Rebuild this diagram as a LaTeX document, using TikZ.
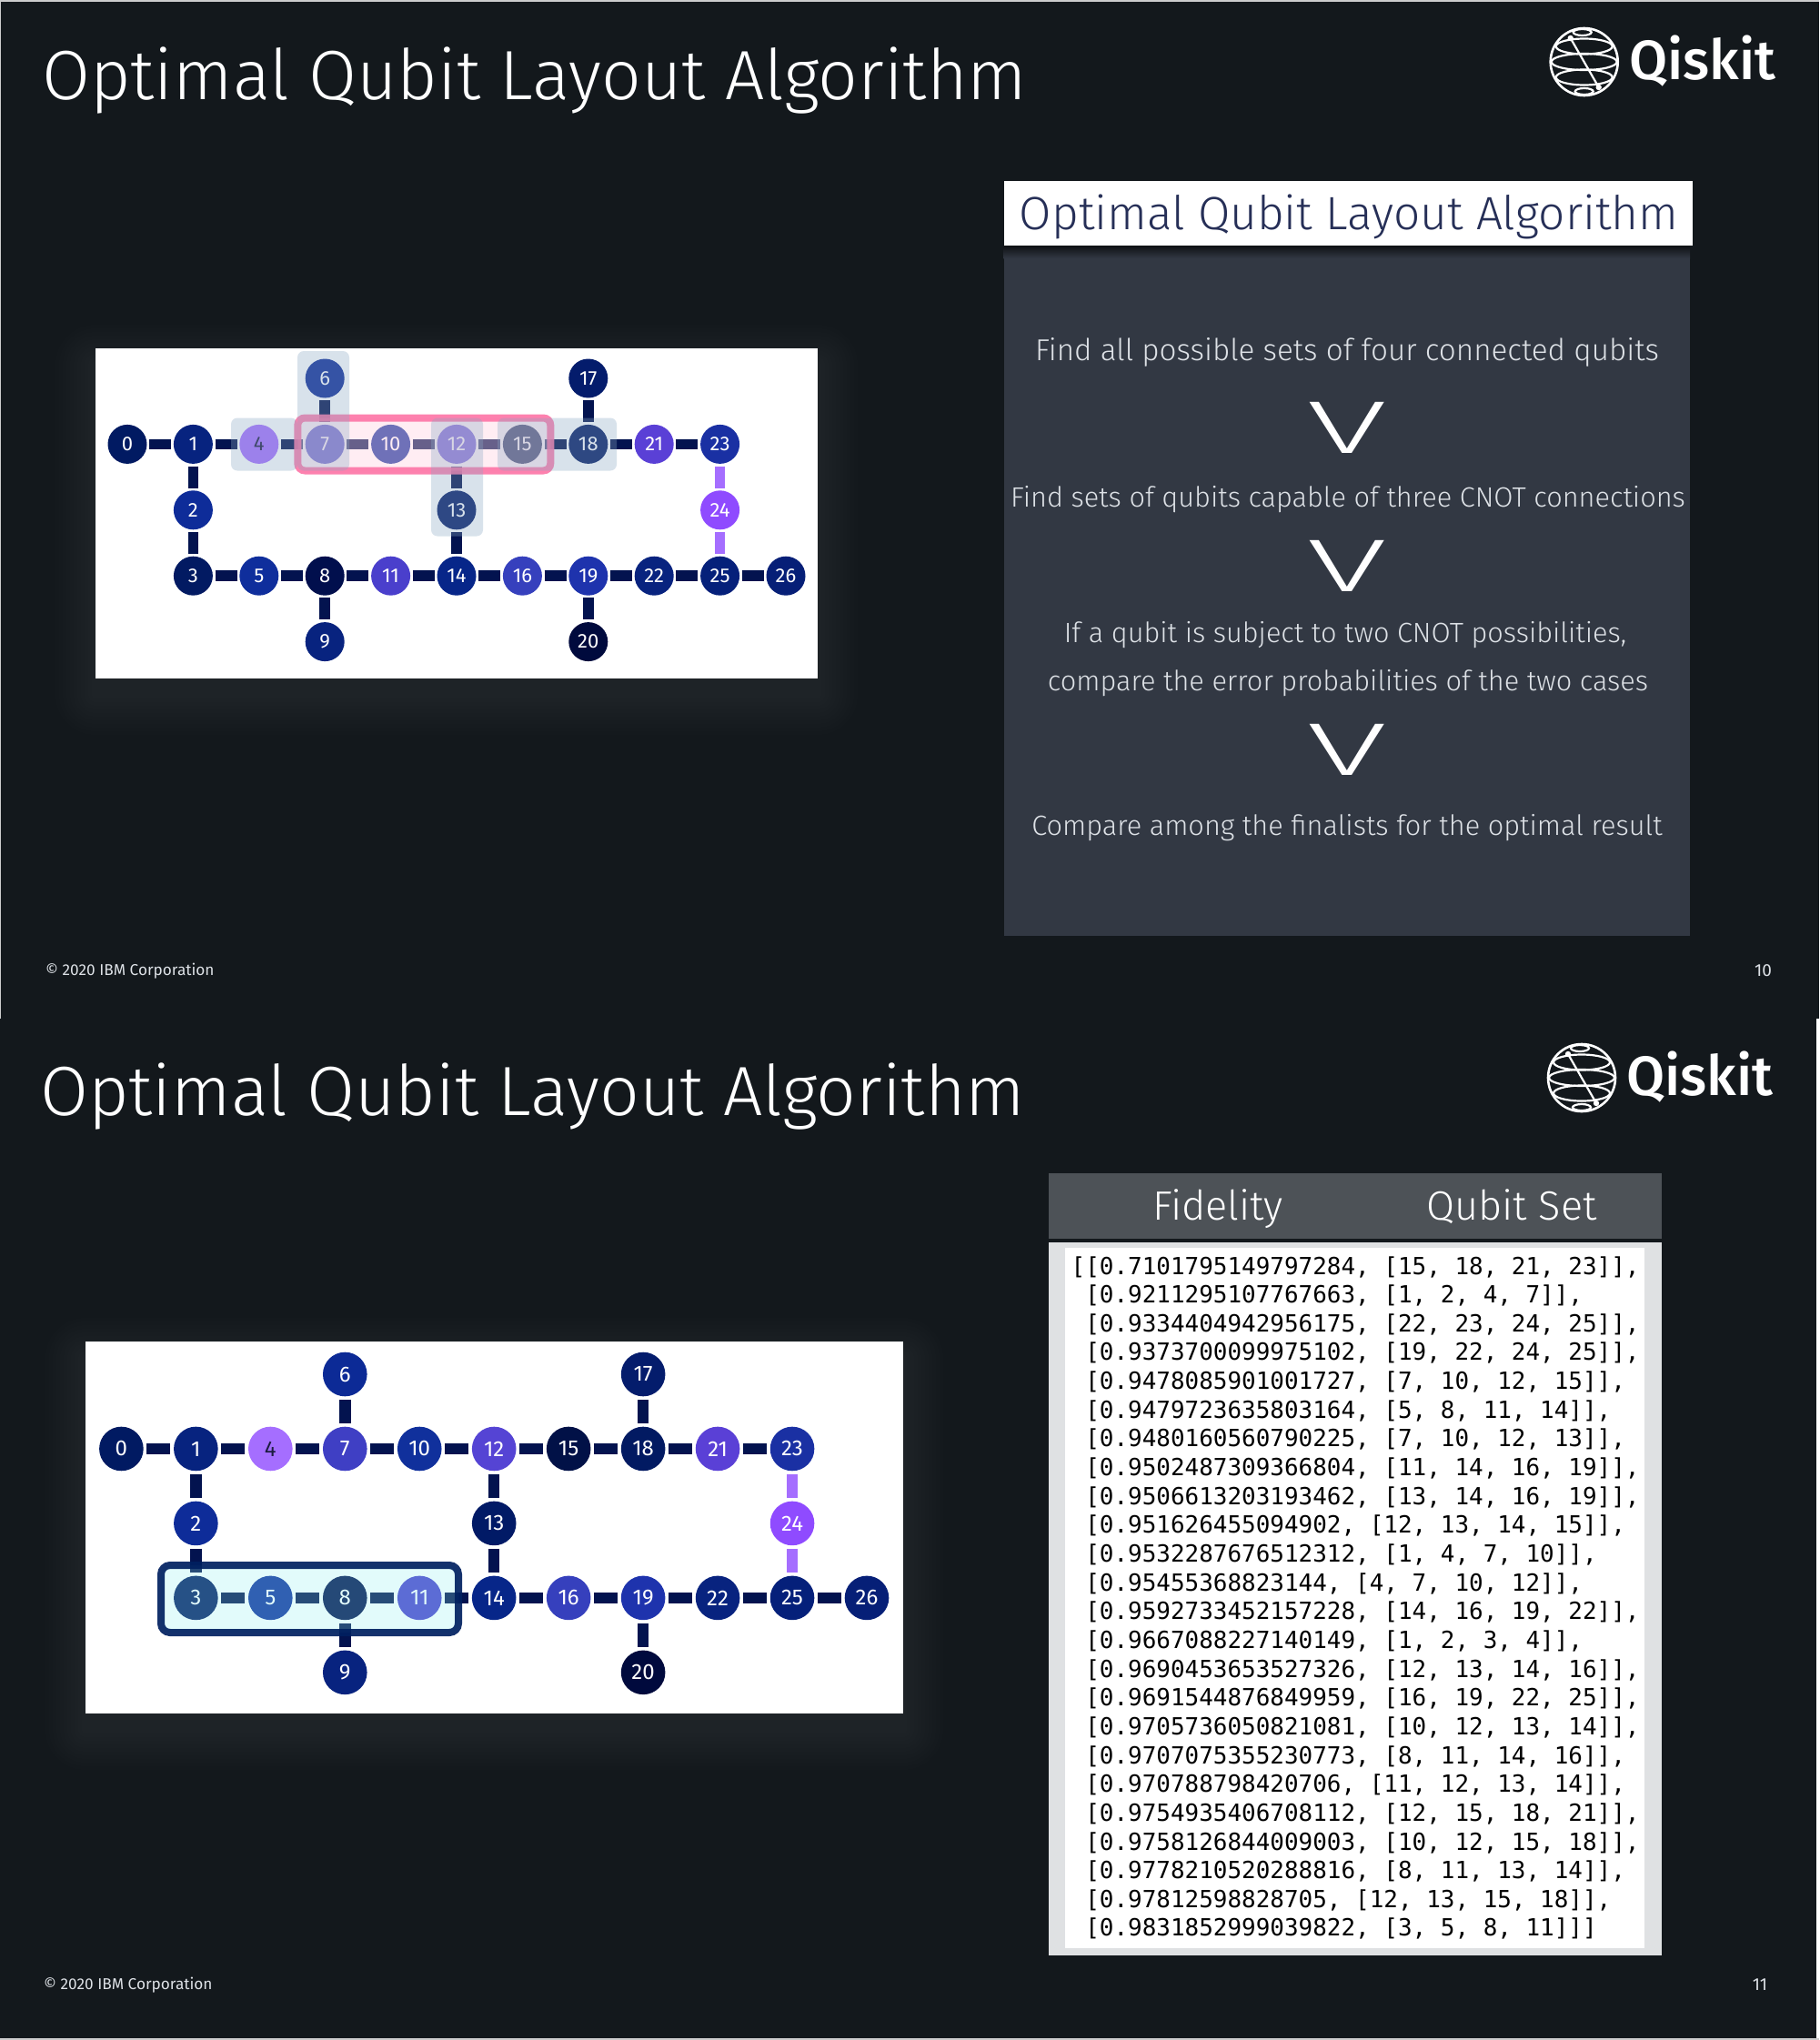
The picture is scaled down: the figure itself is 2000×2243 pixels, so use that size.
\documentclass[tikz,border=0pt]{standalone}
\usepackage{fontspec}
\usetikzlibrary{calc}
\setmainfont{Fira Sans Light}
\newfontfamily\regfont{Fira Sans}
\newfontfamily\medfont{Fira Sans Medium}
\newfontfamily\monofont{DejaVu Sans Mono}
\definecolor{bg}{HTML}{13181C}
\definecolor{edgeC}{HTML}{03134F}
\definecolor{lilac}{HTML}{A56EFF}
\definecolor{panelC}{HTML}{323843}
\definecolor{titleC}{HTML}{262F57}
\definecolor{darkNum}{HTML}{1C1C40}
\definecolor{textC}{HTML}{DDE1E6}
\definecolor{headC}{HTML}{4D5257}
\definecolor{frameC}{HTML}{DFE1E3}
\definecolor{pinkB}{HTML}{FD74A6}
\definecolor{pinkF}{HTML}{FFD4E3}
\definecolor{hiF}{HTML}{8AA8C4}
\definecolor{navyB}{HTML}{002060}
\definecolor{cyanF}{HTML}{91F3F3}
\definecolor{q0}{HTML}{011A62}\definecolor{q1}{HTML}{07237F}\definecolor{q2}{HTML}{0E2C99}
\definecolor{q3}{HTML}{021A62}\definecolor{q4}{HTML}{A56EFF}\definecolor{q5}{HTML}{0F2E9C}
\definecolor{q6}{HTML}{0C2A96}\definecolor{q7}{HTML}{3F3FC4}\definecolor{q8}{HTML}{010F4D}
\definecolor{q9}{HTML}{08237F}\definecolor{q10}{HTML}{10309C}\definecolor{q11}{HTML}{4A3FCC}
\definecolor{q12}{HTML}{5544D4}\definecolor{q13}{HTML}{011A66}\definecolor{q14}{HTML}{072689}
\definecolor{q15}{HTML}{011147}\definecolor{q16}{HTML}{3640BD}\definecolor{q17}{HTML}{041C6C}
\definecolor{q18}{HTML}{021A62}\definecolor{q19}{HTML}{1E33AD}\definecolor{q20}{HTML}{000A3D}
\definecolor{q21}{HTML}{5A40D6}\definecolor{q22}{HTML}{08237F}\definecolor{q23}{HTML}{1A30A3}
\definecolor{q24}{HTML}{8F4BFF}\definecolor{q25}{HTML}{05207A}\definecolor{q26}{HTML}{061F77}
\tikzset{
  qubit/.style={circle,inner sep=0pt,text=white,font=\regfont\fontsize{#1}{#1}\selectfont},
  wire/.style={line cap=butt,draw=edgeC},
  slidetitle/.style={anchor=base west,inner sep=0pt,text=white,font=\fontsize{76.7}{76.7}\selectfont},
  foot/.style={inner sep=0pt,text=textC,font=\regfont\fontsize{17.2}{17.2}\selectfont},
  pagenum/.style={inner sep=0pt,text=textC,font=\regfont\fontsize{19}{19}\selectfont},
  stepline/.style={anchor=base,inner sep=0pt,text=textC,font=\fontsize{30.7}{30.7}\selectfont},
  chevron/.style={inner sep=0pt,text=white,font=\fontsize{82}{82}\selectfont},
  colhead/.style={anchor=base,inner sep=0pt,text=white,font=\fontsize{45}{45}\selectfont},
  logotext/.style={anchor=base west,inner sep=0pt,text=white,font=\medfont\fontsize{61}{61}\selectfont},
  tableline/.style={anchor=base west,inner sep=0pt,text=black,font=\monofont\fontsize{25.95}{25.95}\selectfont},
  ring/.style={draw=white,line width=2.2pt},
}
% glow round a panel: left, top, right, bottom
\newcommand{\panelglow}[4]{%
  \foreach \g in {4,8,...,44}{
    \fill[white,opacity=0.009,rounded corners=\g pt]
      ({#1-\g},{#2-\g+18}) rectangle ({#3+\g},{#4+\g+18});
  }}
% Qiskit logo at centre of globe
\newcommand{\qlogo}[2]{%
  \begin{scope}[shift={(#1,#2)}]
    \draw[ring,line width=2.6pt] (0,0) circle[radius=37pt];
    \draw[ring] (0,0) ellipse[x radius=36pt,y radius=9pt];
    \draw[ring] (0,-17) ellipse[x radius=31pt,y radius=8.5pt];
    \draw[ring] (0,17) ellipse[x radius=31pt,y radius=8.5pt];
    \draw[ring] (-2,-32.5) ellipse[x radius=10pt,y radius=3.5pt];
    \draw[ring] (0,32.5) ellipse[x radius=10pt,y radius=3.5pt];
    \coordinate (qa) at (-15,-26);
    \coordinate (qb) at (16,28);
    \draw[white,line width=2.2pt] (qa) -- (qb);
    \fill[white] (qa) circle[radius=3.2pt] (qb) circle[radius=3.2pt];
  \end{scope}}
% chip graph: prefix, x0, y0, step, radius, font size, wire width, gap
\newcommand{\chipnodes}[8]{%
  \foreach \n/\cx/\cy in {0/0/1,1/1/1,7/3/1,10/4/1,12/5/1,15/6/1,18/7/1,21/8/1,23/9/1,
      3/1/3,5/2/3,8/3/3,11/4/3,14/5/3,16/6/3,19/7/3,22/8/3,25/9/3,26/10/3,
      6/3/0,17/7/0,2/1/2,13/5/2,24/9/2,9/3/4,20/7/4}{
    \node[qubit=#6,fill=q\n,minimum size=#5*2pt] (#1\n) at ({#2+\cx*#4},{#3+\cy*#4}) {\n};
  }
  \node[qubit=#6,fill=q4,text=darkNum,minimum size=#5*2pt] (#14) at ({#2+2*#4},{#3+#4}) {4};
  \foreach \a/\b in {0/1,1/4,4/7,7/10,10/12,12/15,15/18,18/21,21/23,1/2,2/3,3/5,5/8,8/11,11/14,14/16,16/19,19/22,22/25,25/26,6/7,17/18,12/13,13/14,8/9,19/20}{
    \draw[wire,line width=#7pt,shorten <=#8pt,shorten >=#8pt] (#1\a) -- (#1\b);
  }
  \draw[wire,draw=lilac,line width=#7pt,shorten <=#8pt,shorten >=#8pt] (#123) -- (#124);
  \draw[wire,draw=lilac,line width=#7pt,shorten <=#8pt,shorten >=#8pt] (#124) -- (#125);
}
\begin{document}
\begin{tikzpicture}[x=1pt,y=-1pt]
\useasboundingbox (0,0) rectangle (2000,2243);
\fill[bg] (0,0) rectangle (2000,2243);
% hairlines at the slide edges
\fill[white!80!black] (0,0) rectangle (2000,1.5);
\fill[white!80!black] (0,0) rectangle (1.2,1120);
\fill[white] (1996.6,1120) rectangle (2000,2243);
\fill[white!80!black] (0,2241) rectangle (2000,2243);

% ---- slide 10 ----
\node[slidetitle] (title1) at (46,109) {Optimal Qubit Layout Algorithm};
\qlogo{1741.7}{68}
\node[logotext] (qk1) at (1791,87) {Qiskit};
\panelglow{105}{383}{899}{746}
\fill[white] (105,383) rectangle (899,746);
\chipnodes{a}{140}{416}{72.4}{21.5}{22}{11.5}{2.5}
\draw[pinkB,line width=8pt,opacity=.9,fill=pinkF,fill opacity=.4,rounded corners=8pt,draw opacity=.9]
  (327.3,459.5) rectangle (605.3,517.5);
\foreach \xa/\ya/\xb/\yb in {327/386/384/517.5, 254/459.5/327/517.5, 474/459.5/531/589.5, 547/459.5/678/517.5}{
  \fill[hiF,opacity=.33,rounded corners=7pt] (\xa,\ya) rectangle (\xb,\yb);
}
% right column
\fill[panelC] (1103.5,270) rectangle (1858,1029);
\shade[top color=black!70!panelC,bottom color=panelC] (1103.5,270) rectangle (1858,284);
\fill[white] (1103.5,199) rectangle (1860.5,270);
\node[anchor=base,inner sep=0pt,text=titleC,font=\fontsize{51.3}{51.3}\selectfont] (ptitle) at (1483,252) {Optimal Qubit Layout Algorithm};
\node[stepline,font=\fontsize{33.2}{33.2}\selectfont] (s1) at (1481,396) {Find all possible sets of four connected qubits};
\node[chevron] (v1) at (1481,470) {\scalebox{1.95}[1]{V}};
\node[stepline] (s2) at (1482,557) {Find sets of qubits capable of three CNOT connections};
\node[chevron] (v2) at (1481,622) {\scalebox{1.95}[1]{V}};
\node[stepline] (s3) at (1479,706) {If a qubit is subject to two CNOT possibilities,};
\node[stepline] (s4) at (1482,759) {compare the error probabilities of the two cases};
\node[chevron] (v3) at (1481,824) {\scalebox{1.95}[1]{V}};
\node[stepline] (s5) at (1481,918) {Compare among the finalists for the optimal result};
\node[foot,anchor=west] (f1) at (50,1067.5) {© 2020 IBM Corporation};
\node[pagenum] (p1) at (1938.5,1067) {10};

% ---- slide 11 ----
\node[slidetitle] (title2) at (44,1226) {Optimal Qubit Layout Algorithm};
\qlogo{1739}{1185}
\node[logotext] (qk2) at (1788,1204) {Qiskit};
\panelglow{94}{1475}{993}{1884}
\fill[white] (94,1475) rectangle (993,1884);
\chipnodes{b}{133.4}{1511}{81.96}{24.3}{24}{12.5}{3.5}
\draw[navyB,line width=8pt,opacity=.9,fill=cyanF,fill opacity=.254,draw opacity=.92,rounded corners=10pt]
  (177,1721) rectangle (504,1795);
% table
\fill[headC] (1152.5,1290) rectangle (1826.5,1362);
\node[colhead] (h1) at (1339,1341) {Fidelity};
\node[colhead] (h2) at (1662,1341) {Qubit Set};
\fill[frameC] (1152.5,1366) rectangle (1826.5,2150);
\fill[white] (1171,1372) rectangle (1808,2142);
\foreach [count=\i from 0] \t in {
{{[}{[}0.7101795149797284, {[}15, 18, 21, 23{]}{]},},
{~{[}0.9211295107767663, {[}1, 2, 4, 7{]}{]},},
{~{[}0.9334404942956175, {[}22, 23, 24, 25{]}{]},},
{~{[}0.9373700099975102, {[}19, 22, 24, 25{]}{]},},
{~{[}0.9478085901001727, {[}7, 10, 12, 15{]}{]},},
{~{[}0.9479723635803164, {[}5, 8, 11, 14{]}{]},},
{~{[}0.9480160560790225, {[}7, 10, 12, 13{]}{]},},
{~{[}0.9502487309366804, {[}11, 14, 16, 19{]}{]},},
{~{[}0.9506613203193462, {[}13, 14, 16, 19{]}{]},},
{~{[}0.951626455094902, {[}12, 13, 14, 15{]}{]},},
{~{[}0.9532287676512312, {[}1, 4, 7, 10{]}{]},},
{~{[}0.95455368823144, {[}4, 7, 10, 12{]}{]},},
{~{[}0.9592733452157228, {[}14, 16, 19, 22{]}{]},},
{~{[}0.9667088227140149, {[}1, 2, 3, 4{]}{]},},
{~{[}0.9690453653527326, {[}12, 13, 14, 16{]}{]},},
{~{[}0.9691544876849959, {[}16, 19, 22, 25{]}{]},},
{~{[}0.9705736050821081, {[}10, 12, 13, 14{]}{]},},
{~{[}0.9707075355230773, {[}8, 11, 14, 16{]}{]},},
{~{[}0.970788798420706, {[}11, 12, 13, 14{]}{]},},
{~{[}0.9754935406708112, {[}12, 15, 18, 21{]}{]},},
{~{[}0.9758126844009003, {[}10, 12, 15, 18{]}{]},},
{~{[}0.9778210520288816, {[}8, 11, 13, 14{]}{]},},
{~{[}0.97812598828705, {[}12, 13, 15, 18{]}{]},},
{~{[}0.9831852999039822, {[}3, 5, 8, 11{]}{]}{]}}}{
  \node[tableline] (row\i) at (1177.5,{1401+\i*31.65}) {\t};
}
\node[foot,anchor=west] (f2) at (48,2182.5) {© 2020 IBM Corporation};
\node[pagenum] (p2) at (1935,2182) {11};
\end{tikzpicture}
\end{document}
